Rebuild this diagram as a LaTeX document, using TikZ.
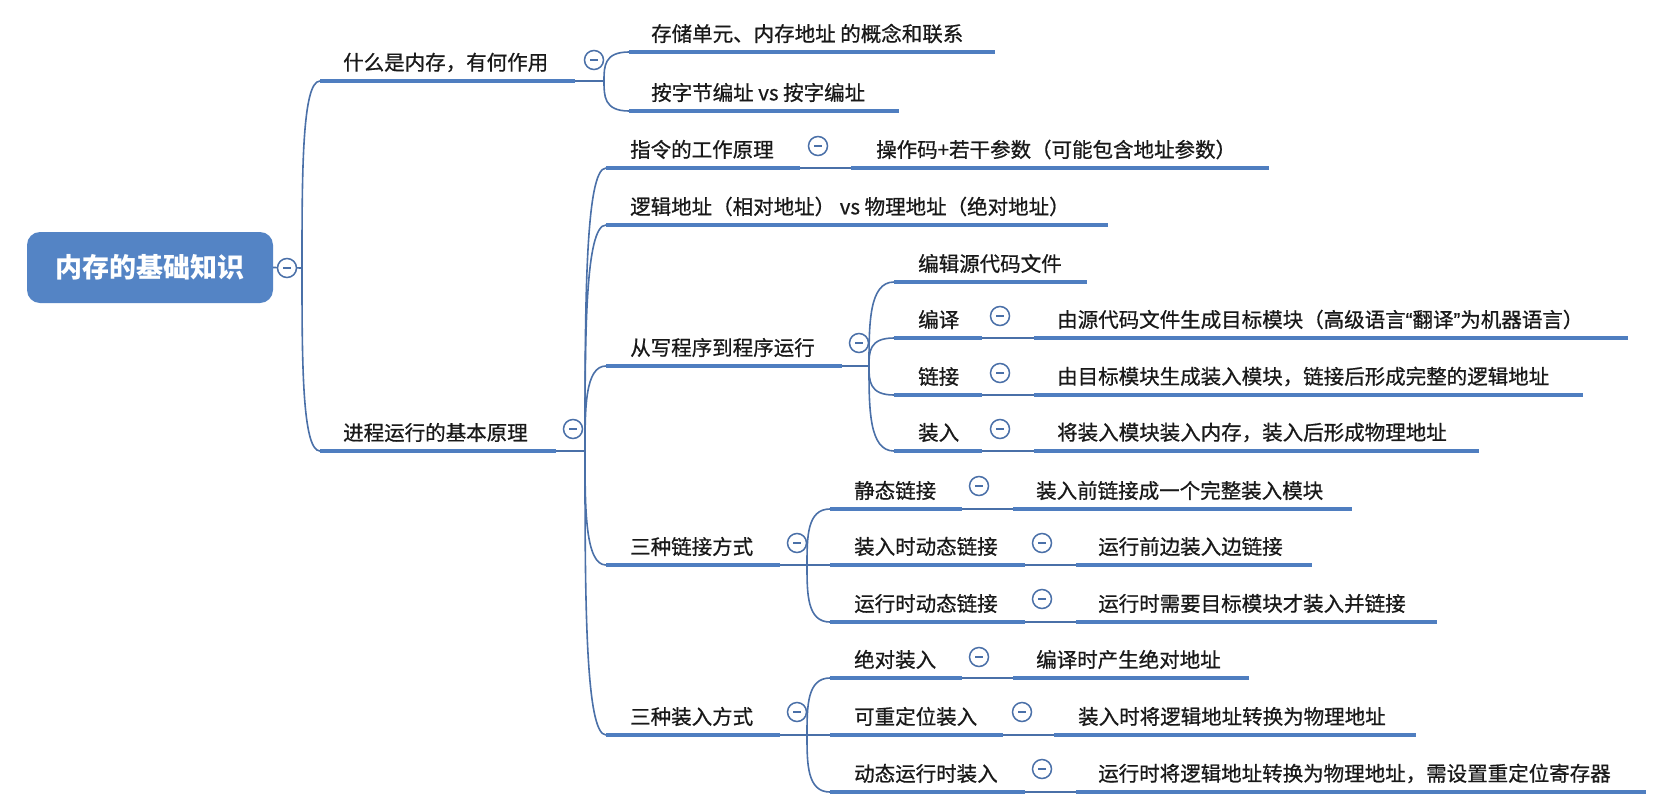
\documentclass[tikz,border=0pt]{standalone}
\usepackage{fontspec}
\setmainfont{Noto Sans CJK SC}
\newfontfamily\labfont{Noto Sans CJK SC}[FakeBold=0.7]
\newfontfamily\quotefont{Liberation Sans}[FakeBold=0.7]
\usetikzlibrary{calc}
\definecolor{ul}{RGB}{79,126,192}
\definecolor{cn}{RGB}{74,112,168}
\definecolor{rootfill}{RGB}{84,132,197}
\definecolor{txt}{RGB}{25,25,25}
\tikzset{
  under/.style={draw=ul, line width=4pt},
  conn/.style={draw=cn, line width=1.6pt},
  lab/.style={anchor=west, inner sep=0pt, text=txt, font=\labfont\fontsize{20.5}{24}\selectfont},
  collapse/.style={circle, draw=cn, line width=1.5pt, fill=white, minimum size=19pt, inner sep=0pt,
    path picture={\draw[cn, line width=1.6pt] ([xshift=-4pt]path picture bounding box.center) -- ([xshift=4pt]path picture bounding box.center);}},
  rootbox/.style={rounded corners=13pt, fill=rootfill, text=white, minimum width=246pt, minimum height=71pt, inner sep=0pt,
    font=\fontsize{27}{30}\selectfont\bfseries}
}
\newcommand\topic[6]{%
  \coordinate (#1s) at (#2,#4);
  \coordinate (#1e) at (#3,#4);
  \draw[under] (#1s) -- (#1e);
  \node[lab] (#1) at (#5,#4-18.5) {#6};
}
\newcommand\link[2]{\draw[conn] (#1) .. controls ($(#1)!0.5!(#1|-#2)$) and (#1|-#2) .. (#2);}
\begin{document}
\begin{tikzpicture}[x=1pt,y=-1pt]
\useasboundingbox (0,0) rectangle (1654,798);
\fill[white] (0,0) rectangle (1654,798);
% root
\node[rootbox] (root) at (150,267.5) {内存的基础知识};
\coordinate (j0) at (302,268);
\draw[conn] (root.east) -- (j0);
% level 1
\topic{b1}{320}{575}{81}{343}{什么是内存，有何作用}
\topic{b2}{320}{556}{451}{343}{进程运行的基本原理}
\link{j0}{b1s}
\link{j0}{b2s}
% branch 1 children
\coordinate (j1) at (604,81);
\draw[conn] (b1e) -- (j1);
\topic{b1a}{629}{995}{52}{651}{存储单元、内存地址 的概念和联系}
\topic{b1b}{629}{899}{111}{651}{按字节编址 vs 按字编址}
\link{j1}{b1as}
\link{j1}{b1bs}
% branch 2 children
\coordinate (j2) at (585,451);
\draw[conn] (b2e) -- (j2);
\topic{c1}{606}{800}{168}{630}{指令的工作原理}
\topic{c1d}{851}{1269}{168}{876}{操作码+若干参数（可能包含地址参数）}
\draw[conn] (c1e) -- (c1ds);
\topic{c2}{606}{1108}{225}{630}{逻辑地址（相对地址） vs 物理地址（绝对地址）}
\topic{c3}{606}{842}{366}{630}{从写程序到程序运行}
\topic{c4}{606}{780}{565}{630}{三种链接方式}
\topic{c5}{606}{780}{735}{630}{三种装入方式}
\link{j2}{c1s}
\link{j2}{c2s}
\link{j2}{c3s}
\link{j2}{c4s}
\link{j2}{c5s}
% c3 children
\coordinate (j3) at (869,366);
\draw[conn] (c3e) -- (j3);
\topic{d1}{894}{1087}{282}{918}{编辑源代码文件}
\topic{d2}{894}{982}{338}{918}{编译}
\topic{d2d}{1034}{1628}{338}{1057}{由源代码文件生成目标模块（高级语言{\quotefont “}翻译{\quotefont ”}为机器语言）}
\draw[conn] (d2e) -- (d2ds);
\topic{d3}{894}{982}{395}{918}{链接}
\topic{d3d}{1034}{1583}{395}{1057}{由目标模块生成装入模块，链接后形成完整的逻辑地址}
\draw[conn] (d3e) -- (d3ds);
\topic{d4}{894}{982}{451}{918}{装入}
\topic{d4d}{1034}{1479}{451}{1057}{将装入模块装入内存，装入后形成物理地址}
\draw[conn] (d4e) -- (d4ds);
\link{j3}{d1s}
\link{j3}{d2s}
\link{j3}{d3s}
\link{j3}{d4s}
% c4 children
\coordinate (j4) at (807,565);
\draw[conn] (c4e) -- (j4);
\topic{e1}{830}{962}{509}{854}{静态链接}
\topic{e1d}{1013}{1352}{509}{1036}{装入前链接成一个完整装入模块}
\draw[conn] (e1e) -- (e1ds);
\topic{e2}{830}{1025}{565}{854}{装入时动态链接}
\topic{e2d}{1076}{1312}{565}{1098}{运行前边装入边链接}
\draw[conn] (e2e) -- (e2ds);
\topic{e3}{830}{1025}{622}{854}{运行时动态链接}
\topic{e3d}{1076}{1437}{622}{1098}{运行时需要目标模块才装入并链接}
\draw[conn] (e3e) -- (e3ds);
\link{j4}{e1s}
\link{j4}{e2s}
\link{j4}{e3s}
% c5 children
\coordinate (j5) at (807,735);
\draw[conn] (c5e) -- (j5);
\topic{f1}{830}{962}{678}{854}{绝对装入}
\topic{f1d}{1013}{1249}{678}{1036}{编译时产生绝对地址}
\draw[conn] (f1e) -- (f1ds);
\topic{f2}{830}{1003}{735}{854}{可重定位装入}
\topic{f2d}{1054}{1416}{735}{1078}{装入时将逻辑地址转换为物理地址}
\draw[conn] (f2e) -- (f2ds);
\topic{f3}{830}{1025}{792}{854}{动态运行时装入}
\topic{f3d}{1076}{1646}{792}{1098}{运行时将逻辑地址转换为物理地址，需设置重定位寄存器}
\draw[conn] (f3e) -- (f3ds);
\link{j5}{f1s}
\link{j5}{f2s}
\link{j5}{f3s}
% collapse markers
\node[collapse] (rootc) at (287,268) {};
\node[collapse] (b1c) at (594,60) {};
\node[collapse] (b2c) at (573,429) {};
\node[collapse] (c1c) at (818,146) {};
\node[collapse] (c3c) at (859,343) {};
\node[collapse] (d2c) at (1000,316) {};
\node[collapse] (d3c) at (1000,373) {};
\node[collapse] (d4c) at (1000,429) {};
\node[collapse] (c4c) at (797,543) {};
\node[collapse] (e1c) at (979,486) {};
\node[collapse] (e2c) at (1042,543) {};
\node[collapse] (e3c) at (1042,599) {};
\node[collapse] (c5c) at (797,712) {};
\node[collapse] (f1c) at (979,657) {};
\node[collapse] (f2c) at (1022,712) {};
\node[collapse] (f3c) at (1042,769) {};
\end{tikzpicture}
\end{document}
